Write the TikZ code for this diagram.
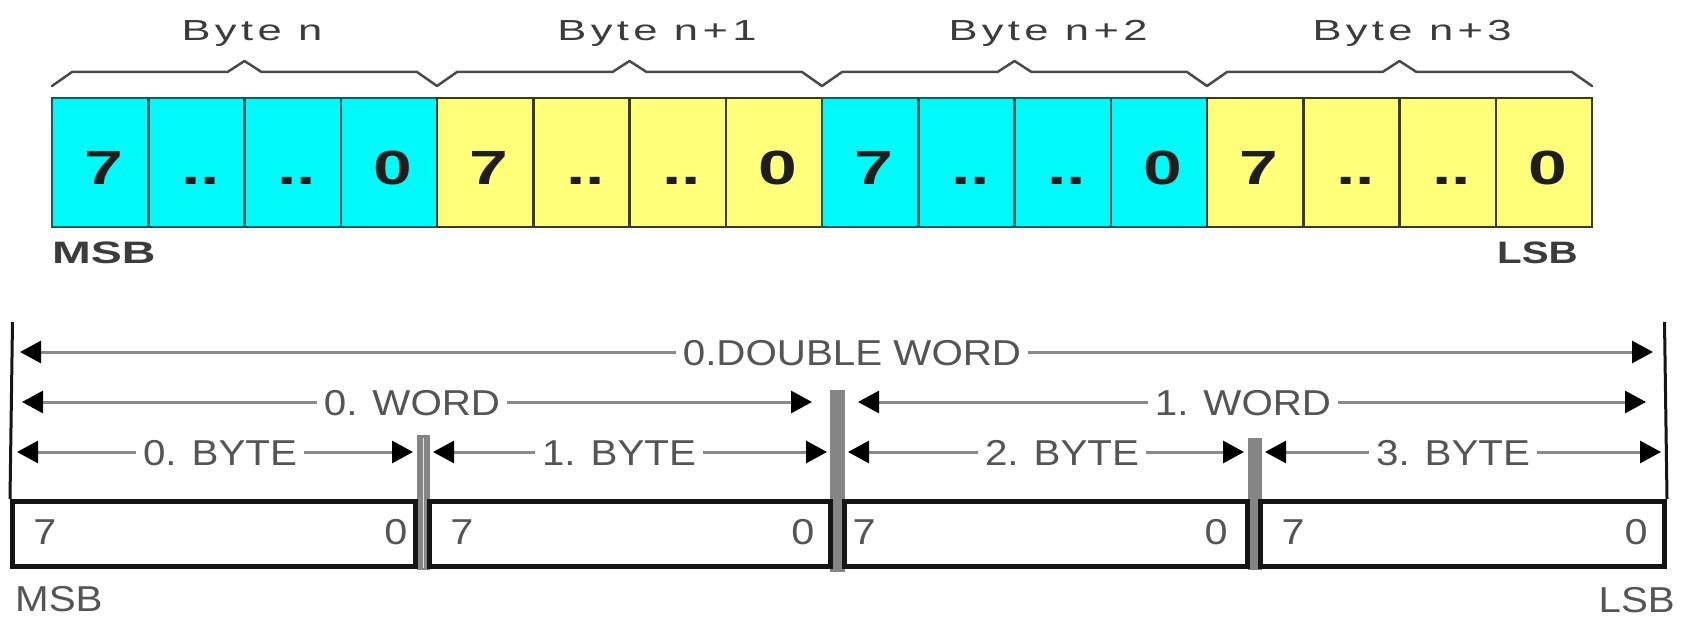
\documentclass[tikz,border=0pt]{standalone}
\usepackage{fontspec}
\setmainfont{Liberation Sans}
\usepackage{graphicx}
\usetikzlibrary{arrows.meta}
\definecolor{cyanfill}{HTML}{00FAFA}
\definecolor{cyanedge}{HTML}{0A5C5E}
\definecolor{yelfill}{HTML}{FFFF7A}
\definecolor{yeledge}{HTML}{3A3A14}
\definecolor{txtdark}{HTML}{1E1E1E}
\definecolor{txtgrey}{HTML}{555555}
\definecolor{bracetxt}{HTML}{3C3C3C}
\definecolor{linegrey}{HTML}{8A8A8A}
\definecolor{bracegrey}{HTML}{4A4A4A}
\definecolor{sepgrey}{HTML}{858585}
\definecolor{boxedge}{HTML}{151515}
\newcommand{\wide}[2]{\scalebox{#1}[1]{#2}}
\newcommand{\bitfnt}{\fontsize{48}{50}\selectfont\bfseries}
\newcommand{\bracefnt}{\fontsize{29}{30}\selectfont\addfontfeature{LetterSpace=10}}
\newcommand{\sidefnt}{\fontsize{31}{32}\selectfont\bfseries}
\newcommand{\lblfnt}{\fontsize{36}{38}\selectfont}
\tikzset{
  dimtip/.tip={Triangle[length=21pt,width=22pt,color=black]},
  cell/.style={line width=2.5pt, minimum width=96.25pt, minimum height=129pt, inner sep=0pt},
  bit/.style={font=\bitfnt, text=txtdark, anchor=base, inner sep=0pt},
  bracelbl/.style={font=\bracefnt, text=bracetxt, anchor=base, inner sep=0pt},
  sidelbl/.style={font=\sidefnt, text=bracetxt, anchor=base, inner sep=0pt},
  brace/.style={draw=bracegrey, line width=2.5pt, line join=round, line cap=round},
  dim/.style={draw=linegrey, line width=3pt, arrows={dimtip-dimtip}},
  lbl/.style={font=\lblfnt, text=txtgrey, fill=white, anchor=base, inner xsep=7pt, inner ysep=3pt},
  boxlbl/.style={font=\lblfnt, text=txtgrey, anchor=base, inner sep=0pt},
  wbox/.style={draw=boxedge, line width=5pt, fill=white, minimum height=65pt, inner sep=0pt},
  frame/.style={draw=boxedge, line width=3pt},
}
\begin{document}
\begin{tikzpicture}[x=1pt,y=-1pt]
\useasboundingbox (0,0) rectangle (1683,620);
\fill[white] (0,0) rectangle (1683,620);

% ---------- top: byte braces ----------
\foreach \k in {0,...,3} {
  \pgfmathsetmacro\xs{52+385*\k}
  \pgfmathsetmacro\xe{\xs+385}
  \pgfmathsetmacro\xm{\xs+192.5}
  \draw[brace] (\xs,86) -- (\xs+20,72) -- (\xm-17,72) -- (\xm,61) -- (\xm+17,72) -- (\xe-20,72) -- (\xe,86);
}
\node[bracelbl] (bn0) at (252,41) {\wide{1.5}{Byte n}};
\node[bracelbl] (bn1) at (657,41) {\wide{1.5}{Byte n+1}};
\node[bracelbl] (bn2) at (1048,41) {\wide{1.5}{Byte n+2}};
\node[bracelbl] (bn3) at (1412,41) {\wide{1.5}{Byte n+3}};

% ---------- top: bit cells ----------
\foreach \i in {0,...,15} {
  \pgfmathsetmacro\cx{52+96.25*(\i+0.5)}
  \pgfmathtruncatemacro\b{div(\i,4)}
  \pgfmathtruncatemacro\p{mod(\i,4)}
  \ifodd\b
    \node[cell, fill=yelfill, draw=yeledge] (c\i) at (\cx,162.5) {};
  \else
    \node[cell, fill=cyanfill, draw=cyanedge] (c\i) at (\cx,162.5) {};
  \fi
  \node[bit] (d\i) at (\cx+4,185) {\wide{1.45}{\ifcase\p\relax 7\or ..\or ..\or 0\fi}};
}
\node[sidelbl, anchor=base west] (msbt) at (52,264) {\wide{1.5}{MSB}};
\node[sidelbl, anchor=base east] (lsbt) at (1578,264) {\wide{1.3}{LSB}};

% ---------- bottom: separators ----------
\fill[sepgrey] (417,435) rectangle (430,570);
\draw[white!80!gray, line width=1.5pt] (423.5,438) -- (423.5,568);
\fill[sepgrey] (830,390) rectangle (845,572);
\fill[sepgrey] (1248,438) rectangle (1262,570);

% ---------- bottom: boxes ----------
\node[wbox, minimum width=403pt] (b0) at (214,534) {};
\node[wbox, minimum width=401pt] (b1) at (630,534) {};
\node[wbox, minimum width=403pt] (b2) at (1046,534) {};
\node[wbox, minimum width=404pt] (b3) at (1462.5,534) {};

\coordinate (ltop) at (12.5,322);
\coordinate (rtop) at (1664.5,322);
\draw[frame] (ltop) -- (b0.north west);
\draw[frame] (rtop) -- (b3.north east);

\node[boxlbl] (b0h) at (45,544) {\wide{1.15}{7}};
\node[boxlbl] (b0l) at (396,544) {\wide{1.15}{0}};
\node[boxlbl] (b1h) at (462,544) {\wide{1.15}{7}};
\node[boxlbl] (b1l) at (803,544) {\wide{1.15}{0}};
\node[boxlbl] (b2h) at (864,544) {\wide{1.15}{7}};
\node[boxlbl] (b2l) at (1216,544) {\wide{1.15}{0}};
\node[boxlbl] (b3h) at (1293,544) {\wide{1.15}{7}};
\node[boxlbl] (b3l) at (1636,544) {\wide{1.15}{0}};

% ---------- bottom: dimension arrows ----------
\coordinate (dwL) at (20,352);   \coordinate (dwR) at (1653,352);
\coordinate (w0L) at (22,402);   \coordinate (w0R) at (812,402);
\coordinate (w1L) at (858,402);  \coordinate (w1R) at (1646,402);
\coordinate (y0L) at (17,452);   \coordinate (y0R) at (413,452);
\coordinate (y1L) at (433,452);  \coordinate (y1R) at (827,452);
\coordinate (y2L) at (848,452);  \coordinate (y2R) at (1244,452);
\coordinate (y3L) at (1265,452); \coordinate (y3R) at (1661,452);
\draw[dim] (dwL) -- (dwR);
\draw[dim] (w0L) -- (w0R);
\draw[dim] (w1L) -- (w1R);
\draw[dim] (y0L) -- (y0R);
\draw[dim] (y1L) -- (y1R);
\draw[dim] (y2L) -- (y2R);
\draw[dim] (y3L) -- (y3R);

\node[lbl] (tdw) at (852,365) {\wide{1.12}{0.DOUBLE WORD}};
\node[lbl] (tw0) at (412,415) {\wide{1.12}{0. WORD}};
\node[lbl] (tw1) at (1243,415) {\wide{1.12}{1. WORD}};
\node[lbl] (ty0) at (220,465) {\wide{1.12}{0. BYTE}};
\node[lbl] (ty1) at (619,465) {\wide{1.12}{1. BYTE}};
\node[lbl] (ty2) at (1062,465) {\wide{1.12}{2. BYTE}};
\node[lbl] (ty3) at (1453,465) {\wide{1.12}{3. BYTE}};

\node[boxlbl, anchor=base west] (msbb) at (15,611) {\wide{1.12}{MSB}};
\node[boxlbl, anchor=base east] (lsbb) at (1675,612) {\wide{1.12}{LSB}};
\end{tikzpicture}
\end{document}
